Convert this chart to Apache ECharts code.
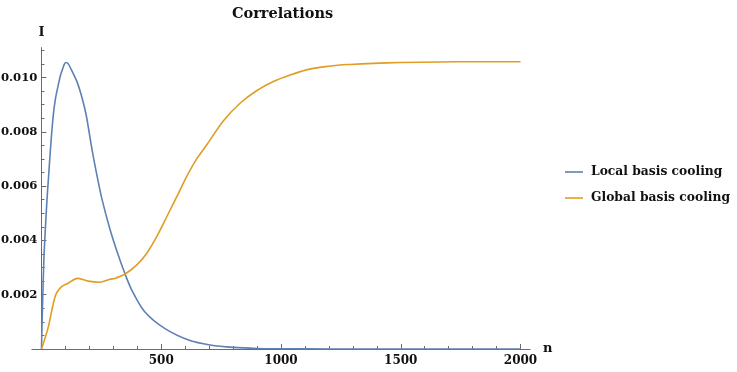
<!DOCTYPE html>
<html>
<head>
<meta charset="utf-8">
<script src="https://cdn.jsdelivr.net/npm/echarts@6/dist/echarts.min.js"></script>
<style>
  html, body { margin: 0; padding: 0; background: #fff; }
  #main { width: 737px; height: 372px; }
</style>
</head>
<body>
<div id="main"></div>
<script>
// 数据：点 (n, I)
var localN = [0, 2, 5, 10, 16, 23, 30, 37, 48, 58, 72, 80, 87, 95, 103, 112, 125, 150, 171, 187, 212, 236, 253, 285, 315, 349, 377, 431, 514, 620, 704, 801, 900, 1000, 1200, 1500, 2000];
var localI = [0, 0.0008, 0.0018, 0.0033, 0.0044, 0.0055, 0.0064, 0.0073, 0.0085, 0.0092, 0.0098, 0.0101, 0.01028, 0.01048, 0.01055, 0.0105, 0.01028, 0.0098, 0.0092, 0.0086, 0.0073, 0.0062, 0.0055, 0.00444, 0.0036, 0.00276, 0.00217, 0.00137, 0.00076, 0.00031, 0.00015, 0.00006, 0.00002, 0.00001, 0, 0, 0];

var globalN = [0, 27, 48, 62, 83, 111, 150, 194, 243, 286, 306, 349, 397, 439, 481, 523, 565, 606, 648, 690, 759, 829, 898, 968, 1038, 1107, 1177, 1246, 1288, 1385, 1500, 1664, 1800, 2000];
var globalI = [0, 0.00076, 0.00162, 0.00205, 0.00229, 0.00242, 0.0026, 0.0025, 0.00246, 0.00257, 0.0026, 0.00276, 0.00309, 0.00352, 0.00414, 0.00487, 0.00561, 0.00635, 0.007, 0.00752, 0.0084, 0.00905, 0.00951, 0.00985, 0.01009, 0.01028, 0.01039, 0.01046, 0.01048, 0.01052, 0.01055, 0.01057, 0.01058, 0.01058];

var xTicks = [500, 1000, 1500, 2000];
var xMinorTicks = [100, 200, 300, 400, 600, 700, 800, 900, 1100, 1200, 1300, 1400, 1600, 1700, 1800, 1900];
var yTicks = [0.002, 0.004, 0.006, 0.008, 0.010];
var yMinorTicks = [0.0005, 0.001, 0.0015, 0.0025, 0.003, 0.0035, 0.0045, 0.005, 0.0055, 0.0065, 0.007, 0.0075, 0.0085, 0.009, 0.0095, 0.0105, 0.011];

var seriesNames = ['Local basis cooling', 'Global basis cooling'];

function pairs(xs, ys) {
  var out = [];
  for (var i = 0; i < xs.length; i++) out.push([xs[i], ys[i]]);
  return out;
}

var font = 'DejaVu Serif';
var axisColor = '#6b6b6b';
// 纵轴放在 n=0 处（x 轴从 -40 开始，左移约 9.6px）
var yOffset = -9.58;

var myChart = echarts.init(document.getElementById('main'));

var option = {
  animation: false,
  title: {
    text: 'Correlations',
    left: 227,
    top: 2,
    textStyle: { fontFamily: font, fontWeight: 'bold', fontSize: 14.5, color: '#111' }
  },
  legend: {
    orient: 'vertical',
    left: 560,
    top: 161,
    icon: 'rect',
    itemWidth: 18,
    itemHeight: 1.6,
    itemGap: 14,
    data: seriesNames,
    textStyle: { fontFamily: font, fontWeight: 'bold', fontSize: 12.3, color: '#111', padding: [0, 0, 0, 3] }
  },
  grid: { left: 31.9, right: 206.9, top: 47.6, bottom: 23, containLabel: false, outerBoundsMode: 'none' },
  xAxis: [
    {
      type: 'value',
      min: -40,
      max: 2040,
      name: 'n',
      nameLocation: 'end',
      nameGap: 8,
      nameTextStyle: { fontFamily: font, fontWeight: 'bold', fontSize: 13, color: '#111' },
      splitLine: { show: false },
      axisLine: { show: true, onZero: false, lineStyle: { color: axisColor, width: 1 } },
      axisTick: { show: true, inside: true, length: 5, customValues: xTicks, lineStyle: { color: axisColor } },
      axisLabel: {
        customValues: xTicks,
        margin: 6,
        formatter: function (v) { return String(v); },
        fontFamily: font, fontWeight: 'bold', fontSize: 12, color: '#111'
      }
    },
    {
      type: 'value',
      min: -40,
      max: 2040,
      position: 'bottom',
      splitLine: { show: false },
      axisLine: { show: false, onZero: false },
      axisTick: { show: true, inside: true, length: 3, customValues: xMinorTicks, lineStyle: { color: axisColor } },
      axisLabel: { show: false }
    }
  ],
  yAxis: [
    {
      type: 'value',
      min: 0,
      max: 0.0111,
      position: 'left',
      offset: yOffset,
      name: 'I',
      nameLocation: 'end',
      nameGap: 8,
      nameTextStyle: { fontFamily: font, fontWeight: 'bold', fontSize: 13, color: '#111' },
      splitLine: { show: false },
      axisLine: { show: true, onZero: false, lineStyle: { color: axisColor, width: 1 } },
      axisTick: { show: true, inside: true, length: 5, customValues: yTicks, lineStyle: { color: axisColor } },
      axisLabel: {
        customValues: yTicks,
        margin: 4,
        formatter: function (v) { return v.toFixed(3); },
        fontFamily: font, fontWeight: 'bold', fontSize: 11.7, color: '#111'
      }
    },
    {
      type: 'value',
      min: 0,
      max: 0.0111,
      position: 'left',
      offset: yOffset,
      splitLine: { show: false },
      axisLine: { show: false, onZero: false },
      axisTick: { show: true, inside: true, length: 3, customValues: yMinorTicks, lineStyle: { color: axisColor } },
      axisLabel: { show: false }
    }
  ],
  series: [
    {
      name: seriesNames[0],
      type: 'line',
      xAxisIndex: 0,
      yAxisIndex: 0,
      showSymbol: false,
      smooth: 0.3,
      color: '#5e81b5',
      lineStyle: { width: 1.6, color: '#5e81b5' },
      data: pairs(localN, localI)
    },
    {
      name: seriesNames[1],
      type: 'line',
      xAxisIndex: 0,
      yAxisIndex: 0,
      showSymbol: false,
      smooth: 0.3,
      color: '#e19c24',
      lineStyle: { width: 1.6, color: '#e19c24' },
      data: pairs(globalN, globalI)
    }
  ]
};

myChart.setOption(option);
</script>
</body>
</html>
